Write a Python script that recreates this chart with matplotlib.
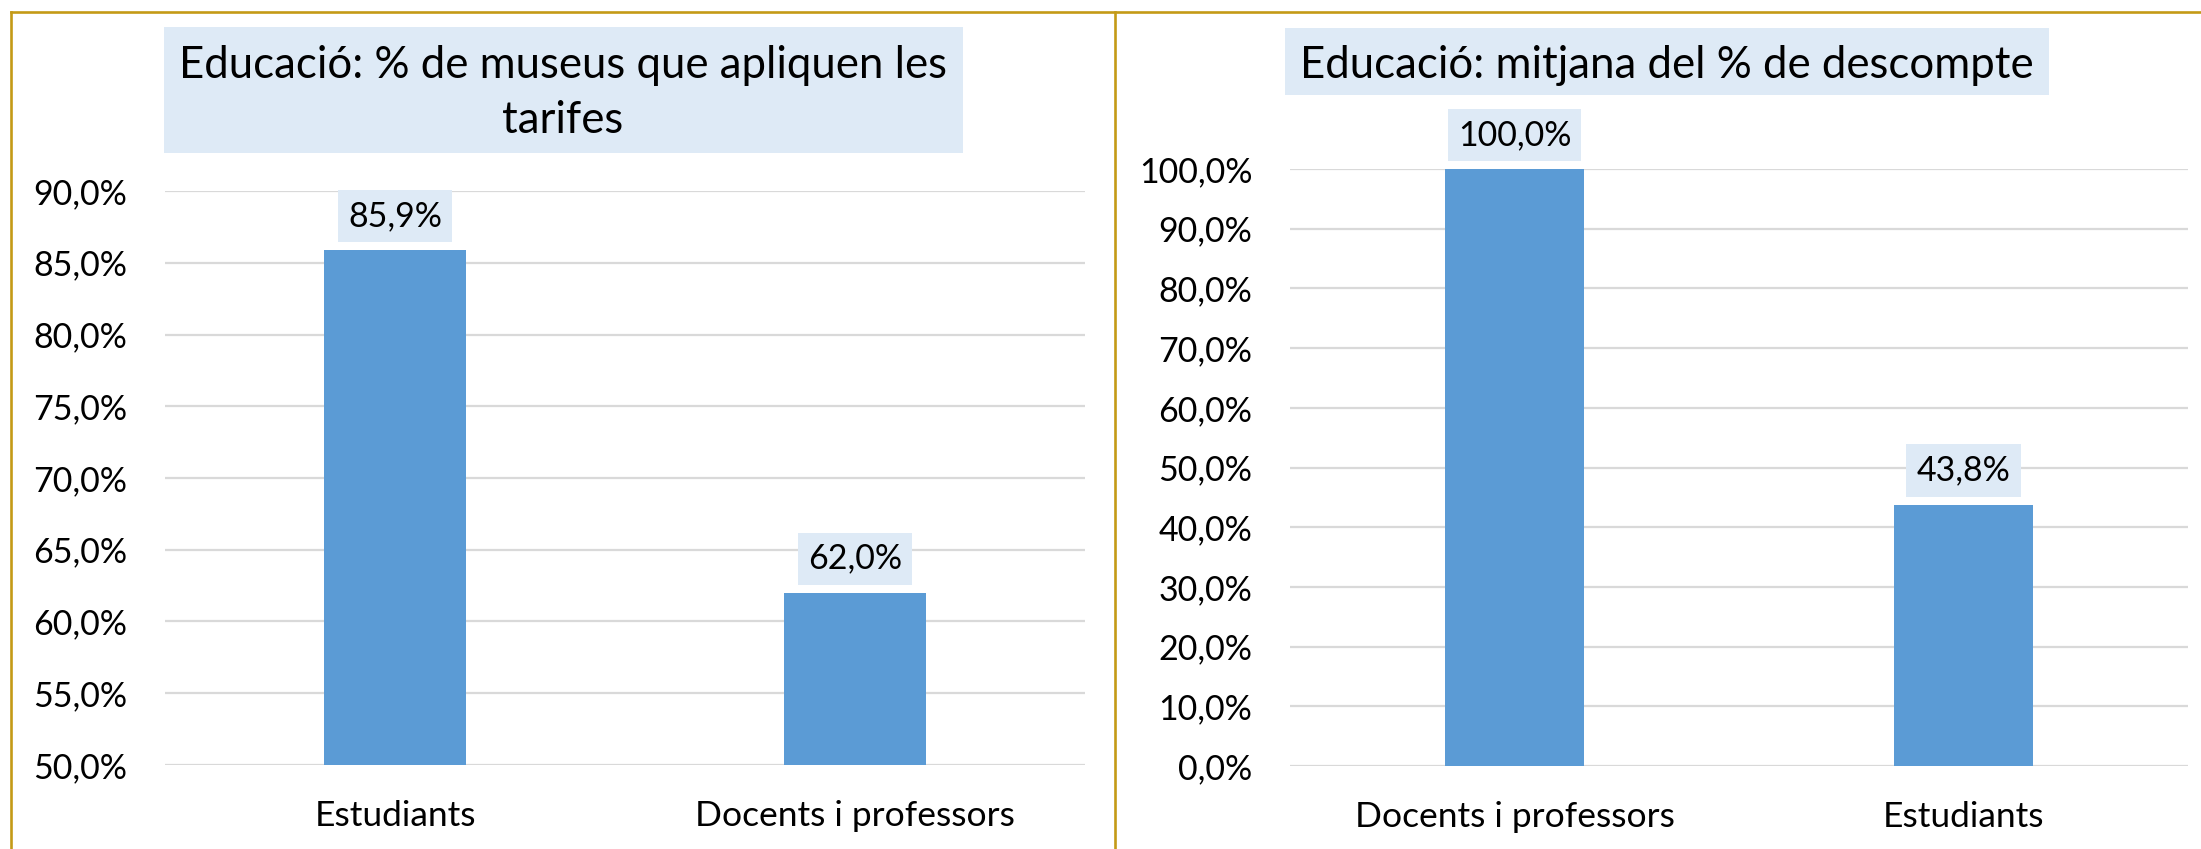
# Import plot functions
# -----------------------------------------------------------
import matplotlib
matplotlib.use('Agg')
import matplotlib.pyplot as plt
from matplotlib.patches import Rectangle
from matplotlib.lines import Line2D

plt.rcParams['font.family'] = ['Lato', 'DejaVu Sans']
plt.rcParams['text.color'] = '#000000'

# data
cats_left = ['Estudiants', 'Docents i professors']
vals_left = [85.9, 62.0]
title_left = 'Educació: % de museus que apliquen les\ntarifes'
ticks_left = [50, 55, 60, 65, 70, 75, 80, 85, 90]

cats_right = ['Docents i professors', 'Estudiants']
vals_right = [100.0, 43.8]
title_right = 'Educació: mitjana del % de descompte'
ticks_right = [0, 10, 20, 30, 40, 50, 60, 70, 80, 90, 100]

# colours
bar_col = '#5B9BD5'
box_col = '#DEEAF6'
grid_col = '#D9D9D9'
gold = '#C49A17'

W, H = 2201, 849
fig = plt.figure(figsize=(W / 100, H / 100), dpi=100)
fs_tick = 24.5
fs_xlab = 25.5
fs_title = 31.5


def pct(v):
    return ('%.1f%%' % v).replace('.', ',')


def px(x0, y0, x1, y1):
    # pixel box (top-left origin) -> figure fraction rect
    return [x0 / W, 1 - y1 / H, (x1 - x0) / W, (y1 - y0) / H]


def panel(rect, cats, vals, ticks):
    ax = fig.add_axes(rect)
    x = range(len(cats))
    ax.bar(x, vals, width=0.31, color=bar_col, zorder=3)
    ax.set_xlim(-0.5, len(cats) - 0.5)
    ax.set_ylim(ticks[0], ticks[-1])
    ax.set_yticks(ticks)
    ax.set_yticklabels([pct(t) for t in ticks])
    ax.set_xticks(list(x))
    ax.set_xticklabels(cats)
    ax.tick_params(axis='y', length=0, pad=27, labelsize=fs_tick)
    ax.tick_params(axis='x', length=0, pad=25, labelsize=fs_xlab)
    ax.grid(axis='y', color=grid_col, lw=1.6, zorder=0)
    for s in ax.spines.values():
        s.set_visible(False)
    ax.set_axisbelow(True)
    for xi, v in zip(x, vals):
        ax.annotate(pct(v), (xi, v), xytext=(0, 13), textcoords='offset points',
                    ha='center', va='bottom', fontsize=fs_tick,
                    bbox=dict(boxstyle='square,pad=0.3', fc=box_col, ec='none'))
    return ax


panel(px(165, 191, 1085, 765), cats_left, vals_left, ticks_left)
panel(px(1290, 169, 2188, 766), cats_right, vals_right, ticks_right)

# title boxes
fig.patches.append(Rectangle((164 / W, 1 - 153 / H), (963 - 164) / W, (153 - 27) / H,
                             transform=fig.transFigure, fc=box_col, ec='none'))
fig.text(563 / W, 1 - 93 / H, title_left, ha='center', va='center',
         multialignment='center', fontsize=fs_title, linespacing=1.42)
fig.patches.append(Rectangle((1285 / W, 1 - 95 / H), (2049 - 1285) / W, (95 - 28) / H,
                             transform=fig.transFigure, fc=box_col, ec='none'))
fig.text(1667 / W, 1 - 65 / H, title_right, ha='center', va='center', fontsize=fs_title)

# panel borders
for xs, ys in [([11, W], [12, 12]), ([11, 11], [12, H]), ([1115, 1115], [12, H])]:
    fig.lines.append(Line2D([x / W for x in xs], [1 - y / H for y in ys],
                            transform=fig.transFigure, color=gold, lw=1.9))

plt.savefig('out.png', dpi=100)
